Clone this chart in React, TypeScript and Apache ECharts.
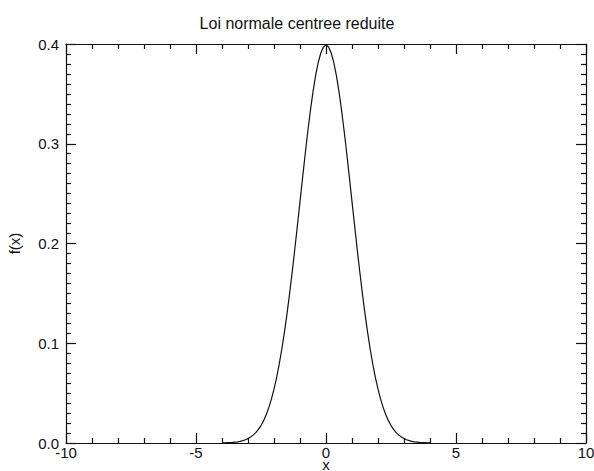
import React, { useEffect, useRef } from "react";
import * as echarts from "echarts";

const titleText = "Loi normale centree reduite";
const xName = "x";
const yName = "f(x)";

const xValues = [
  -4.0, -3.9, -3.8, -3.7, -3.6, -3.5, -3.4, -3.3, -3.2, -3.1, -3.0, -2.9, -2.8, -2.7, -2.6, -2.5,
  -2.4, -2.3, -2.2, -2.1, -2.0, -1.9, -1.8, -1.7, -1.6, -1.5, -1.4, -1.3, -1.2, -1.1, -1.0, -0.9,
  -0.8, -0.7, -0.6, -0.5, -0.4, -0.3, -0.2, -0.1, 0.0, 0.1, 0.2, 0.3, 0.4, 0.5, 0.6, 0.7, 0.8, 0.9,
  1.0, 1.1, 1.2, 1.3, 1.4, 1.5, 1.6, 1.7, 1.8, 1.9, 2.0, 2.1, 2.2, 2.3, 2.4, 2.5, 2.6, 2.7, 2.8, 2.9,
  3.0, 3.1, 3.2, 3.3, 3.4, 3.5, 3.6, 3.7, 3.8, 3.9, 4.0,
];
const fValues = [
  0.0001, 0.0002, 0.0003, 0.0004, 0.0006, 0.0009, 0.0012, 0.0017, 0.0024, 0.0033, 0.0044, 0.006,
  0.0079, 0.0104, 0.0136, 0.0175, 0.0224, 0.0283, 0.0355, 0.044, 0.054, 0.0656, 0.079, 0.094,
  0.1109, 0.1295, 0.1497, 0.1714, 0.1942, 0.2179, 0.242, 0.2661, 0.2897, 0.3123, 0.3332, 0.3521,
  0.3683, 0.3814, 0.391, 0.397, 0.3989, 0.397, 0.391, 0.3814, 0.3683, 0.3521, 0.3332, 0.3123,
  0.2897, 0.2661, 0.242, 0.2179, 0.1942, 0.1714, 0.1497, 0.1295, 0.1109, 0.094, 0.079, 0.0656,
  0.054, 0.044, 0.0355, 0.0283, 0.0224, 0.0175, 0.0136, 0.0104, 0.0079, 0.006, 0.0044, 0.0033,
  0.0024, 0.0017, 0.0012, 0.0009, 0.0006, 0.0004, 0.0003, 0.0002, 0.0001,
];

const FONT = "Liberation Sans";
const INK = "#111";

export default function App() {
  const ref = useRef<HTMLDivElement>(null);
  useEffect(() => {
    if (!ref.current) return;
    const chart = echarts.init(ref.current, null, { renderer: "svg" });
    const lineStyle = { color: INK, width: 1.2 };
    const xBase = {
      type: "value" as const,
      min: -10,
      max: 10,
      interval: 5,
      splitLine: { show: false },
      axisLine: { show: true, onZero: false, lineStyle },
      axisTick: { show: true, inside: true, length: 10, lineStyle },
      minorTick: { show: true, splitNumber: 5, length: 5, lineStyle },
      minorSplitLine: { show: false },
    };
    const yBase = {
      type: "value" as const,
      min: 0,
      max: 0.4,
      interval: 0.1,
      splitLine: { show: false },
      axisLine: { show: true, onZero: false, lineStyle },
      axisTick: { show: true, inside: true, length: 10, lineStyle },
      minorTick: { show: true, splitNumber: 10, length: 5, lineStyle },
      minorSplitLine: { show: false },
    };
    chart.setOption({
      animation: false,
      backgroundColor: "#fff",
      title: {
        text: titleText,
        left: "center",
        top: 10,
        textStyle: { fontFamily: FONT, fontSize: 16, fontWeight: "normal", color: INK },
      },
      grid: {
        left: 66,
        right: 8,
        top: 44,
        bottom: 28,
        containLabel: false,
        outerBoundsMode: "none",
      },
      xAxis: [
        {
          ...xBase,
          position: "bottom",
          name: xName,
          nameLocation: "middle",
          nameGap: 16,
          nameMoveOverlap: false,
          nameTextStyle: { fontFamily: FONT, fontSize: 15, lineHeight: 10, color: INK },
          axisLabel: {
            show: true,
            margin: 3,
            fontFamily: FONT,
            fontSize: 15,
            lineHeight: 13,
            color: INK,
            formatter: (v: number) => String(v),
          },
        },
        { ...xBase, position: "top", axisLabel: { show: false } },
      ],
      yAxis: [
        {
          ...yBase,
          position: "left",
          name: yName,
          nameLocation: "middle",
          nameGap: 44,
          nameMoveOverlap: false,
          nameTextStyle: { fontFamily: FONT, fontSize: 15, color: INK },
          axisLabel: {
            show: true,
            margin: 7,
            fontFamily: FONT,
            fontSize: 15,
            color: INK,
            padding: [4, 0, 0, 0],
            formatter: (v: number) => v.toFixed(1),
          },
        },
        { ...yBase, position: "right", axisLabel: { show: false } },
      ],
      series: [
        {
          type: "line",
          xAxisIndex: 0,
          yAxisIndex: 0,
          data: xValues.map((x, i) => [x, fValues[i]]),
          smooth: false,
          showSymbol: false,
          lineStyle: { color: INK, width: 1.2 },
        },
      ],
    });
    return () => chart.dispose();
  }, []);
  return <div ref={ref} style={{ width: 594, height: 471, position: "absolute", left: 0, top: 0 }} />;
}
